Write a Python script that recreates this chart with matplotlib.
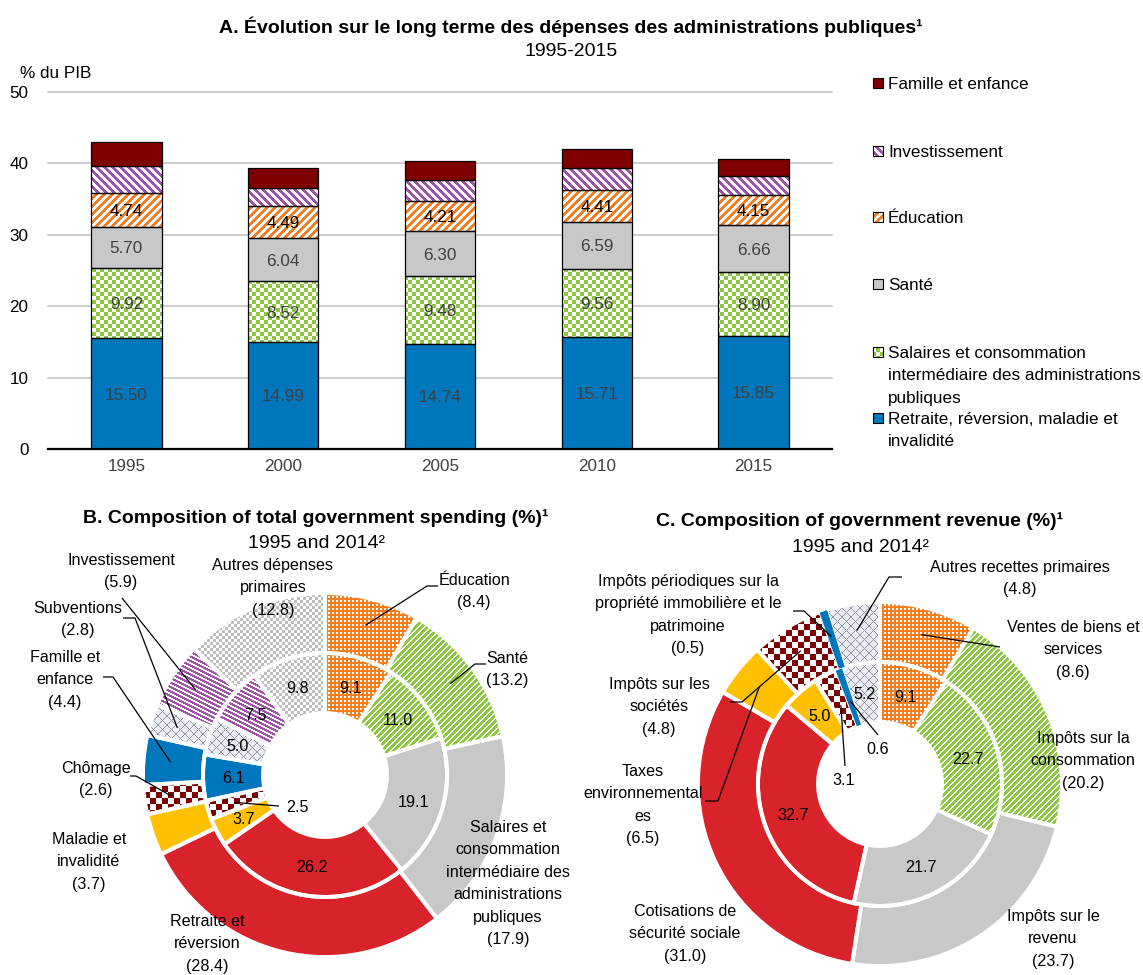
import numpy as np
import matplotlib
matplotlib.use("Agg")
import matplotlib.pyplot as plt
from matplotlib.colors import to_rgb
from matplotlib.path import Path
from matplotlib.patches import Rectangle, Wedge

plt.rcParams["font.family"] = ["Liberation Sans", "DejaVu Sans"]

# ---------------- data ----------------
years = ["1995", "2000", "2005", "2010", "2015"]
retraite = [15.50, 14.99, 14.74, 15.71, 15.85]
salaires = [9.92, 8.52, 9.48, 9.56, 8.90]
sante = [5.70, 6.04, 6.30, 6.59, 6.66]
education = [4.74, 4.49, 4.21, 4.41, 4.15]
investissement = [3.8, 2.5, 2.9, 3.1, 2.7]
famille = [3.3, 2.8, 2.7, 2.6, 2.3]
bar_names = ["Retraite, réversion, maladie et\ninvalidité",
             "Salaires et consommation\nintermédiaire des administrations\npubliques",
             "Santé", "Éducation", "Investissement", "Famille et enfance"]

spend_names = ["Éducation", "Santé",
               "Salaires et\nconsommation\nintermédiaire des\nadministrations\npubliques",
               "Retraite et\nréversion", "Maladie et\ninvalidité", "Chômage",
               "Famille et\nenfance", "Subventions", "Investissement",
               "Autres dépenses\nprimaires"]
spend_1995 = [9.1, 11.0, 19.1, 26.2, 3.7, 2.5, 6.1, 5.0, 7.5, 9.8]
spend_2014 = [8.4, 13.2, 17.9, 28.4, 3.7, 2.6, 4.4, 2.8, 5.9, 12.8]

rev_names = ["Ventes de biens et\nservices", "Impôts sur la\nconsommation",
             "Impôts sur le\nrevenu", "Cotisations de\nsécurité sociale",
             "Impôts sur les\nsociétés", "Taxes\nenvironnemental\nes",
             "Impôts périodiques sur la\npropriété immobilière et le\npatrimoine",
             "Autres recettes primaires"]
rev_1995 = [9.1, 22.7, 21.7, 32.7, 5.0, 3.1, 0.6, 5.2]
rev_2014 = [8.6, 20.2, 23.7, 31.0, 4.8, 6.5, 0.5, 4.8]

# ---------------- styling ----------------
W, H = 1143, 975
ORANGE = "#F47D20"
GREEN = "#8DC63F"
GRAY = "#C8C8C8"
RED = "#D9232A"
YELLOW = "#FFC000"
DKRED = "#7F0000"
BLUE = "#0077BD"
PURPLE = "#A054A8"
PALE = "#E9ECF4"
CROSS = "#969696"

# pattern fills: (kind, foreground, background, period, on-width)
TEX = {
    "bar_green": ("check", GREEN, "white", 8, 4),
    "bar_orange": ("fwd", ORANGE, "white", 8, 4),
    "bar_purple": ("back", PURPLE, "white", 8, 4),
    "dots_orange": ("dots", "white", ORANGE, 4, 2),
    "stripe_green": ("fwd", "white", GREEN, 6, 2),
    "stripe_purple": ("shallow", "white", PURPLE, 4.5, 1.6),
    "check_red": ("check", DKRED, "white", 12, 6),
    "check_gray": ("check", "#BDBDBD", "white", 6, 3),
    "cross": ("cross", CROSS, PALE, 9, 1),
}

bar_styles = [BLUE, "bar_green", GRAY, "bar_orange", "bar_purple", DKRED]
bar_label_colors = ["#404040", "#404040", "#404040", "black", None, None]
spend_styles = ["dots_orange", "stripe_green", GRAY, RED, YELLOW, "check_red",
                BLUE, "cross", "stripe_purple", "check_gray"]
rev_styles = ["dots_orange", "stripe_green", GRAY, RED, YELLOW, "check_red",
              BLUE, "cross"]

FS_TITLE = 14
FS_BAR = 12.3
FS_PIE = 11.6
LS_PIE = 1.62
LS_LEG = 1.62


def face_of(style):
    return TEX[style][2] if style in TEX else style


def texture(spec, x0, y0, w, h):
    kind, fg, bg, p, on = TEX[spec]
    cols = np.arange(x0, x0 + w, dtype=float)[None, :]
    rows = np.arange(y0, y0 + h, dtype=float)[:, None]
    if kind == "check":
        m = ((cols // on) + (rows // on)) % 2 == 0
    elif kind == "fwd":
        m = (cols + rows) % p < on
    elif kind == "back":
        m = (cols - rows) % p < on
    elif kind == "shallow":
        m = (rows - 0.5 * cols) % p < on
    elif kind == "dots":
        m = (cols % p < on) & (rows % p < on)
    else:
        m = ((cols + rows) % p < on) | ((cols - rows) % p < on)
    m = np.broadcast_to(m, (h, w))
    fgc = (np.array(to_rgb(fg)) * 255).astype(np.uint8)
    bgc = (np.array(to_rgb(bg)) * 255).astype(np.uint8)
    return np.where(m[..., None], fgc, bgc).astype(np.uint8)


def apply_texture(ax, patches, spec, zorder):
    pos = ax.get_position()
    x0 = int(round(pos.x0 * W))
    y0 = int(round((1 - pos.y1) * H))
    w = int(round(pos.width * W))
    h = int(round(pos.height * H))
    xl, yl = ax.get_xlim(), ax.get_ylim()
    im = ax.imshow(texture(spec, x0, y0, w, h),
                   extent=(xl[0], xl[1], yl[0], yl[1]), origin="upper",
                   interpolation="nearest", aspect="auto", zorder=zorder)
    clip = Path.make_compound_path(
        *[p.get_path().transformed(p.get_patch_transform()) for p in patches])
    im.set_clip_path(clip, ax.transData)
    ax.set_xlim(xl)
    ax.set_ylim(yl)


def frac_box(left, top, right, bottom):
    return [left / W, 1 - bottom / H, (right - left) / W, (bottom - top) / H]


fig = plt.figure(figsize=(W / 100, H / 100), dpi=100)

# ---------------- panel A: stacked bars ----------------
axb = fig.add_axes(frac_box(48, 92, 832, 449))
axb.set_xlim(-0.5, len(years) - 0.5)
axb.set_ylim(0, 50)
xpos = np.arange(len(years))
BW = 0.45
bottom = np.zeros(len(years))
for vals, style, lc in zip([retraite, salaires, sante, education, investissement, famille],
                           bar_styles, bar_label_colors):
    vals = np.asarray(vals, dtype=float)
    bars = axb.bar(xpos, vals, BW, bottom=bottom, color=face_of(style),
                   linewidth=0, zorder=2)
    if style in TEX:
        apply_texture(axb, bars.patches, style, 2.5)
    axb.bar(xpos, vals, BW, bottom=bottom, fill=False, edgecolor="black",
            linewidth=0.9, zorder=3)
    if lc:
        for xi, b, v in zip(xpos, bottom, vals):
            axb.text(xi, b + v / 2, f"{v:.2f}", ha="center", va="center_baseline",
                     fontsize=FS_BAR, color=lc, zorder=4)
    bottom = bottom + vals

axb.set_yticks(range(0, 51, 10))
axb.set_xticks(xpos, years)
axb.grid(axis="y", color="#C8C8C8", linewidth=1.3)
axb.set_axisbelow(True)
for gl in axb.get_ygridlines():
    gl.set_clip_on(False)
for s in ["left", "right", "top"]:
    axb.spines[s].set_visible(False)
axb.spines["bottom"].set_linewidth(1.6)
axb.tick_params(length=0, labelsize=FS_BAR)
axb.tick_params(axis="y", pad=14)
axb.tick_params(axis="x", pad=7, labelcolor="#404040")

# ---------------- overlay in pixel coordinates ----------------
ov = fig.add_axes([0, 0, 1, 1])


def Y(y):
    return H - y


textured = {}

# legend for panel A
leg_order = [5, 4, 3, 2, 1, 0]
leg_y = [83, 151, 217, 284, 352, 418]
for i, yy in zip(leg_order, leg_y):
    sq = Rectangle((873, Y(yy) - 5), 10, 10, facecolor=face_of(bar_styles[i]),
                   edgecolor="none", zorder=1)
    ov.add_patch(sq)
    if bar_styles[i] in TEX:
        textured.setdefault(bar_styles[i], []).append(sq)
    ov.add_patch(Rectangle((873, Y(yy) - 5), 10, 10, fill=False,
                           edgecolor="black", linewidth=0.8, zorder=3))
    ov.text(888, Y(yy - 6.3), bar_names[i], ha="left", va="top",
            fontsize=FS_BAR, linespacing=LS_LEG)

# doughnuts
RING = 60
R_IN, R_OUT = 122, 182
B_C = (325, 775)
C_C = (880, 784)


def donut(values, center, radius, styles):
    wedges, _ = ov.pie(values, radius=radius, center=(center[0], Y(center[1])),
                       startangle=90, counterclock=False, labeldistance=None,
                       colors=[face_of(s) for s in styles],
                       wedgeprops=dict(width=RING, linewidth=0))
    for w, s in zip(wedges, styles):
        if s in TEX:
            textured.setdefault(s, []).append(w)
    return wedges


b_in = donut(spend_1995, B_C, R_IN, spend_styles)
b_out = donut(spend_2014, B_C, R_OUT, spend_styles)
c_in = donut(rev_1995, C_C, R_IN, rev_styles)
c_out = donut(rev_2014, C_C, R_OUT, rev_styles)

ov.set_xlim(0, W)
ov.set_ylim(0, H)
ov.set_aspect("auto")
ov.axis("off")

for spec, pats in textured.items():
    apply_texture(ov, pats, spec, 1.5)

# white separators between slices and rings; slivers get a rim in their own colour
for wedges, vals, styles in [(b_in, spend_1995, spend_styles), (b_out, spend_2014, spend_styles),
                             (c_in, rev_1995, rev_styles), (c_out, rev_2014, rev_styles)]:
    for w, v, s in zip(wedges, vals, styles):
        ov.add_patch(Wedge(w.center, w.r, w.theta1, w.theta2, width=w.width,
                           fill=False, edgecolor="white", linewidth=2.8, zorder=3))
    for w, v, s in zip(wedges, vals, styles):
        if v < 1:
            ov.add_patch(Wedge(w.center, w.r - 1.5, w.theta1, w.theta2,
                               width=w.width - 3, facecolor=face_of(s),
                               edgecolor=face_of(s), linewidth=1.6, zorder=3.5))


def mid_point(w, r):
    a = np.deg2rad(0.5 * (w.theta1 + w.theta2))
    return w.center[0] + r * np.cos(a), w.center[1] + r * np.sin(a)


def leader(points, w, r):
    ax_, ay_ = mid_point(w, r)
    xs = [p[0] for p in points] + [ax_]
    ys = [Y(p[1]) for p in points] + [ay_]
    ov.plot(xs, ys, color="black", linewidth=0.9, zorder=4,
            solid_capstyle="butt")


# inner value labels
def inner_labels(wedges, values, special):
    for k, (w, v) in enumerate(zip(wedges, values)):
        if k in special:
            x, y = special[k]
            y = Y(y)
        else:
            x, y = mid_point(w, 92)
        ov.text(x, y, f"{v:.1f}", ha="center", va="center_baseline",
                fontsize=FS_PIE, zorder=5)


inner_labels(b_in, spend_1995, {5: (297, 806)})
inner_labels(c_in, rev_1995, {5: (844, 779), 6: (878, 748)})
leader([(279, 806)], b_in[5], 95)
leader([(845, 766)], c_in[5], 88)
leader([(878, 735)], c_in[6], 88)

# outer category labels with 2014 shares
spend_pos = [(474, 579), (507, 657), (508, 826), (207, 920), (89, 838),
             (96, 767), (65, 656), (78, 607), (121, 559), (273, 564)]
rev_pos = [(1073, 626), (1083, 737), (1053, 915), (685, 910), (659, 683),
           (643, 770), (688, 580), (1020, 566)]
for names, vals, pos in [(spend_names, spend_2014, spend_pos),
                         (rev_names, rev_2014, rev_pos)]:
    for name, v, (x, y) in zip(names, vals, pos):
        ov.text(x, Y(y - 6), f"{name}\n({v:.1f})", ha="center", va="top",
                fontsize=FS_PIE, linespacing=LS_PIE, zorder=5)

OUT_R = 155
for pts, k in [([(438, 586), (427, 586)], 0), ([(486, 664), (475, 664)], 1),
               ([(130, 776), (136, 776)], 5), ([(103, 677), (113, 677)], 6),
               ([(123, 618), (135, 618)], 7), ([(122, 598)], 8)]:
    leader(pts, b_out[k], OUT_R)
for pts, k in [([(1000, 647)], 0), ([(730, 702), (742, 702)], 5),
               ([(705, 801), (718, 801)], 4), ([(793, 611), (804, 611)], 6),
               ([(902, 577), (889, 577)], 7)]:
    leader(pts, c_out[k], OUT_R)

# titles
ov.text(571, Y(25), "A. Évolution sur le long terme des dépenses des administrations publiques¹",
        ha="center", va="center_baseline", fontsize=FS_TITLE, fontweight="bold")
ov.text(571, Y(50), "1995-2015", ha="center", va="center_baseline", fontsize=FS_TITLE)
ov.text(20, Y(72), "% du PIB", ha="left", va="center_baseline", fontsize=FS_BAR)
ov.text(316, Y(516), "B. Composition of total government spending (%)¹",
        ha="center", va="center_baseline", fontsize=FS_TITLE, fontweight="bold")
ov.text(316, Y(542), "1995 and 2014²", ha="center", va="center_baseline", fontsize=FS_TITLE)
ov.text(860, Y(519), "C. Composition of government revenue (%)¹",
        ha="center", va="center_baseline", fontsize=FS_TITLE, fontweight="bold")
ov.text(860, Y(545), "1995 and 2014²", ha="center", va="center_baseline", fontsize=FS_TITLE)

fig.savefig("out.png", dpi=100, facecolor="white")
